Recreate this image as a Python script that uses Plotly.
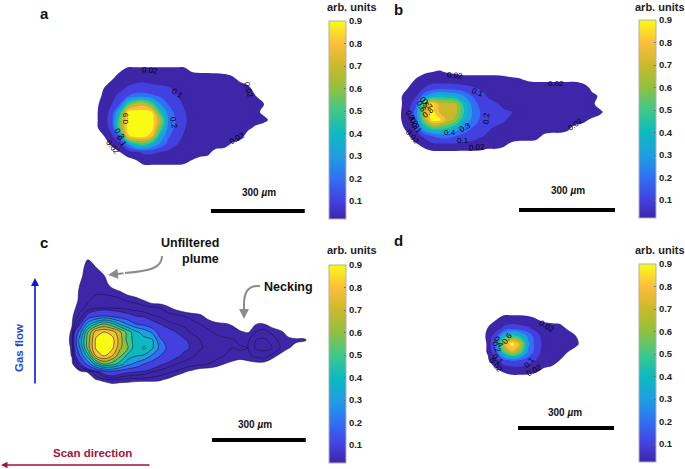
import plotly.graph_objects as go

FONT = "Liberation Sans"
W, H = 685, 469

# ---- colour levels (MATLAB parula look)
BAND_EDGES = [0.02, 0.1, 0.2, 0.3, 0.4, 0.5, 0.6, 0.7, 0.8, 0.9, 1.0]
BAND_COLORS = ["#3e26a8", "#4340e0", "#3070f5", "#1f9fe0", "#0db9c0",
               "#3ec98a", "#90c13f", "#cbb92a", "#fdbe3d", "#f9fb15"]
BAR_VALUES = [0.02, 0.1, 0.2, 0.3, 0.4, 0.5, 0.6, 0.7, 0.8, 0.9]
BAR_TICKS = [0.1, 0.2, 0.3, 0.4, 0.5, 0.6, 0.7, 0.8, 0.9]
LINE_LEVELS_C = [0.02, 0.04, 0.07, 0.1, 0.2, 0.3, 0.4, 0.5, 0.6, 0.7, 0.8, 0.9]

# ---- plume intensity grids (arb. units)
Z_A = [
 [0]*24,
 [0,0,0,.02,.05,.05,.05,.05,.05,.05,.05,.05,.02,.016,.016,.014,.01,0,0,0,0,0,0,0],
 [0,0,.02,.05,.07,.08,.08,.07,.06,.05,.05,.05,.05,.05,.05,.05,.05,.04,.01,0,0,0,0,0],
 [0,.02,.05,.08,.11,.13,.14,.13,.12,.11,.08,.05,.05,.05,.05,.05,.05,.05,.05,.03,0,0,0,0],
 [0,.03,.08,.12,.2,.24,.24,.22,.19,.15,.11,.07,.05,.05,.05,.05,.05,.05,.05,.05,.02,0,0,0],
 [.01,.04,.1,.2,.55,.72,.75,.55,.3,.2,.13,.09,.05,.05,.05,.05,.05,.05,.05,.05,.04,.02,0,0],
 [.012,.05,.14,.45,.93,.95,.95,.9,.5,.27,.16,.11,.06,.05,.05,.05,.05,.05,.05,.05,.03,.01,0,0],
 [.012,.05,.17,.6,.95,.95,.95,.95,.72,.3,.19,.12,.06,.05,.05,.05,.05,.05,.05,.05,.04,.03,.01,0],
 [.01,.05,.14,.6,.95,.95,.95,.95,.6,.28,.17,.11,.05,.05,.05,.05,.05,.05,.05,.03,.01,0,0,0],
 [0,.02,.09,.25,.88,.95,.95,.82,.4,.22,.14,.09,.05,.05,.05,.05,.05,.05,.04,0,0,0,0,0],
 [0,0,.03,.09,.3,.5,.55,.42,.28,.17,.11,.06,.05,.05,.05,.05,.04,.015,0,0,0,0,0,0],
 [0,0,0,.02,.06,.09,.12,.12,.1,.08,.06,.05,.05,.05,.035,0,0,0,0,0,0,0,0,0],
 [0,0,0,0,0,.02,.05,.05,.05,.05,.05,.04,.02,0,0,0,0,0,0,0,0,0,0,0],
 [0]*24,
]

Z_B = [
 [0]*27,
 [0,0,0,.01,.02,.025,.015,.01,0,0,0,0,0,0,0,0,0,0,0,0,0,0,0,0,0,0,0],
 [0,0,.025,.05,.06,.06,.06,.05,.05,.05,.05,.05,.05,.04,.03,.025,.015,.01,.01,.01,.01,.01,.01,0,0,0,0],
 [0,.02,.05,.1,.14,.15,.15,.15,.13,.11,.09,.06,.05,.05,.05,.05,.05,.05,.05,.05,.05,.05,.05,.04,.01,0,0],
 [.01,.05,.09,.26,.38,.45,.42,.38,.3,.2,.14,.09,.06,.05,.05,.05,.05,.05,.05,.05,.05,.05,.05,.05,.03,.015,0],
 [.01,.05,.17,.65,.93,.75,.75,.72,.45,.27,.17,.13,.11,.08,.06,.05,.05,.05,.05,.05,.05,.05,.05,.05,.03,0,0],
 [.012,.07,.25,.7,.95,.78,.75,.72,.5,.3,.2,.16,.13,.11,.1,.07,.05,.05,.05,.05,.05,.05,.05,.05,.05,.03,0],
 [.012,.06,.22,.65,.95,.92,.75,.65,.4,.28,.19,.15,.13,.11,.07,.05,.05,.05,.05,.05,.05,.05,.05,.03,.01,0,0],
 [0,.04,.13,.4,.55,.55,.5,.38,.26,.2,.15,.11,.09,.07,.05,.05,.05,.05,.05,.05,.05,.03,0,0,0,0,0],
 [0,.01,.06,.12,.2,.24,.24,.2,.17,.13,.11,.09,.06,.05,.05,.05,.05,.04,.01,0,0,0,0,0,0,0,0],
 [0,0,.015,.04,.08,.09,.09,.09,.08,.08,.06,.05,.05,.03,.01,0,0,0,0,0,0,0,0,0,0,0,0],
 [0,0,0,0,.01,.01,.01,.01,.01,.01,.01,0,0,0,0,0,0,0,0,0,0,0,0,0,0,0,0],
 [0]*27,
]

Z_C = [
 [0]*33,
 [0,0,0,.022]+[0]*29,
 [0,0,.01,.03,.022]+[0]*28,
 [0,0,.015,.03,.03,.022]+[0]*27,
 [0,0,.02,.03,.03,.03,.01]+[0]*26,
 [0,0,.025,.03,.035,.035,.03,.022,.01]+[0]*24,
 [0,.005,.025,.035,.05,.05,.05,.045,.035,.03,.018]+[0]*22,
 [0,.012,.03,.05,.065,.07,.07,.065,.06,.055,.05,.045,.04,.025,.012]+[0]*18,
 [0,.015,.05,.12,.17,.2,.17,.14,.12,.1,.09,.075,.065,.05,.045,.04,.03,.025,.012]+[0]*14,
 [0,.018,.1,.35,.5,.6,.52,.38,.28,.2,.17,.12,.1,.08,.07,.065,.05,.04,.03,.025,.022,.018,.01,.012,.019,.02,.01,0,0,0,0,0,0],
 [0,.025,.25,.6,.85,.9,.85,.72,.55,.42,.36,.28,.15,.12,.1,.08,.065,.055,.045,.036,.03,.028,.022,.018,.04,.05,.032,.025,.012,0,0,0,0],
 [0,.03,.35,.65,.92,.95,.95,.75,.55,.45,.43,.42,.22,.15,.12,.105,.09,.07,.06,.05,.045,.042,.036,.035,.07,.075,.06,.03,.025,.024,.024,.01,0],
 [0,.025,.3,.65,.92,.95,.93,.72,.6,.42,.52,.42,.27,.18,.13,.11,.095,.075,.06,.05,.045,.04,.042,.04,.075,.08,.07,.04,.022,.012,0,0,0],
 [0,.022,.2,.45,.8,.9,.8,.62,.45,.4,.38,.28,.2,.15,.11,.09,.075,.06,.055,.05,.04,.04,.035,.035,.045,.05,.03,.012,0,0,0,0,0],
 [0,.012,.09,.23,.45,.6,.55,.45,.33,.27,.2,.15,.11,.09,.07,.06,.05,.045,.04,.03,.02,.01,0,.01,.012,.01,0,0,0,0,0,0,0],
 [0,0,.01,.022,.06,.13,.16,.13,.11,.1,.09,.07,.055,.045,.035,.022,.012,0,0,0,0,0,0,0,0,0,0,0,0,0,0,0,0],
 [0,0,0,0,.018,.025,.035,.03,.028,.025,.024,.024,.022,.014]+[0]*19,
 [0]*33,
]

Z_D = [
 [0]*14,
 [0,0,.02,.05,.05,.05,.04,.025,.01,0,0,0,0,0],
 [0,.022,.05,.12,.15,.13,.11,.07,.05,.05,.04,.01,0,0],
 [0,.03,.16,.42,.55,.45,.28,.14,.06,.05,.05,.05,.02,0],
 [0,.025,.25,.78,.96,.78,.33,.16,.07,.05,.05,.05,.03,0],
 [0,.025,.18,.55,.78,.6,.28,.15,.06,.05,.05,.02,0,0],
 [0,.015,.07,.18,.22,.2,.16,.1,.05,.05,.02,0,0,0],
 [0,0,.02,.05,.07,.08,.06,.05,.02,.01,0,0,0,0],
 [0,0,0,0,.01,.01,.01,0,0,0,0,0,0,0],
 [0]*14,
]

# panel: grid, px origin, px/um scale, px domain (l, t, r, b), scale-bar px (x0, y)
PANELS = {
 "a": dict(z=Z_A, ox=96, oy=64, px_um=0.3125, dom=(0, 0, 320, 230), bar=(211, 211), bar_text=(259, 192), label=(44, 14), cb=(329, 21), unit=(352, 7)),
 "b": dict(z=Z_B, ox=400, oy=64, px_um=0.32, dom=(340, 0, 630, 230), bar=(519, 210), bar_text=(568, 191), label=(398, 10), cb=(639, 20), unit=(660, 7)),
 "c": dict(z=Z_C, ox=64, oy=252, px_um=0.3125, dom=(0, 235, 320, 469), bar=(212, 440), bar_text=(255, 424), label=(44, 242), cb=(329, 265), unit=(352, 250)),
 "d": dict(z=Z_D, ox=480, oy=312, px_um=0.32, dom=(340, 235, 630, 469), bar=(518, 428), bar_text=(565, 412), label=(398, 240), cb=(639, 264), unit=(660, 250)),
}
SCALE_BAR_UM = 300
GRID_PX = 8

LEVEL_LABELS = [
 ("0.02",150,70,5),("0.1",177,94,35),("0.2",174,123,80),("0.9",125,118,-90),("0.2",120,134,55),
 ("0.1",122,141,55),("0.02",113,147,50),("0.02",248,90,75),("0.02",237,138,-30),
 ("0.02",455,75,5),("0.1",478,92,20),("0.2",486,118,-85),("0.3",465,127,-30),("0.4",450,132,0),
 ("0.1",463,140,0),("0.02",477,148,-5),("0.02",556,83,0),("0.02",575,124,-35),("0.02",412,137,50),
 ("0.1",417,128,50),("0.2",413,121,60),("0.3",415,124,60),("0.4",411,116,60),("0.5",424,103,60),
 ("0.6",421,107,60),("0.7",427,105,50),("0.8",428,112,-40),
 ("0.02",547,326,30),("0.02",496,365,50),("0.1",498,359,50),("0.2",497,347,70),("0.4",499,342,60),
 ("0.6",507,338,-55),("0.1",529,362,-50),("0.02",534,370,-30),
]


def px(x):
    return x / W


def py(y):
    return 1 - y / H


def note(x, y, text, size, color, angle=0, xanchor="center"):
    return dict(x=px(x), y=py(y), xref="paper", yref="paper", text=text, textangle=angle, showarrow=False,
                xanchor=xanchor, yanchor="middle", font=dict(family=FONT, size=size, color=color))


def arrow(head, tail, color, width):
    return dict(x=px(head[0]), y=py(head[1]), ax=tail[0] - head[0], ay=tail[1] - head[1], xref="paper", yref="paper",
                axref="pixel", ayref="pixel", text="", showarrow=True, arrowhead=2, arrowsize=1, arrowwidth=width,
                arrowcolor=color)


def stepped_scale():
    scale = [[0, "#ffffff"], [BAND_EDGES[0], "#ffffff"]]
    for i, c in enumerate(BAND_COLORS):
        scale += [[BAND_EDGES[i], c], [BAND_EDGES[i + 1], c]]
    return scale


bar_scale = [[(v - BAR_VALUES[0]) / (BAR_VALUES[-1] - BAR_VALUES[0]), c]
             for v, c in zip(BAR_VALUES, BAND_COLORS)]

fig = go.Figure()
annotations, shapes = [], []
layout_axes = {}

for n, (name, p) in enumerate(PANELS.items(), start=1):
    l, t, r, b = p["dom"]
    k = p["px_um"]
    suffix = "" if n == 1 else str(n)
    xa, ya = "x" + suffix, "y" + suffix
    layout_axes["xaxis" + suffix] = dict(domain=[px(l), px(r)], range=[0, (r - l) / k], visible=False,
                                         anchor=ya, fixedrange=True)
    layout_axes["yaxis" + suffix] = dict(domain=[py(b), py(t)], range=[(b - t) / k, 0], visible=False,
                                         anchor=xa, fixedrange=True)
    z = p["z"]
    xs = [(p["ox"] - l + GRID_PX * i) / k for i in range(len(z[0]))]
    ys = [(p["oy"] - t + GRID_PX * j) / k for j in range(len(z))]
    fig.add_trace(go.Contour(x=xs, y=ys, z=z, xaxis=xa, yaxis=ya, zmin=0, zmax=1, colorscale=stepped_scale(),
                             autocontour=False, contours=dict(start=0, end=1, size=0.02, coloring="fill", showlines=False),
                             line=dict(width=0), showscale=False, hoverinfo="skip"))
    if name == "c":
        for lev in LINE_LEVELS_C:
            fig.add_trace(go.Contour(x=xs, y=ys, z=z, xaxis=xa, yaxis=ya, autocontour=False,
                                     contours=dict(start=lev, end=lev, size=1, coloring="none"),
                                     line=dict(color="#15103a", width=0.55), showscale=False, hoverinfo="skip"))
    # 300 um scale bar
    bx, by = p["bar"]
    x0 = (bx - l) / k
    yb = (by - t) / k
    fig.add_trace(go.Scatter(x=[x0, x0 + SCALE_BAR_UM], y=[yb, yb], xaxis=xa, yaxis=ya, mode="lines",
                             line=dict(color="black", width=4), showlegend=False, hoverinfo="skip"))
    annotations.append(note(*p["bar_text"], "<b>300 <i>µ</i>m</b>", 10, "#111"))
    annotations.append(note(*p["label"], f"<b>{name}</b>", 15, "#111"))
    annotations.append(note(*p["unit"], "<b>arb. units</b>", 11, "#222"))
    # colour bar
    cx, cy = p["cb"]
    fig.add_trace(go.Scatter(x=[None], y=[None], xaxis=xa, yaxis=ya, mode="markers", showlegend=False,
                             marker=dict(color=[BAR_VALUES[0]], cmin=BAR_VALUES[0], cmax=BAR_VALUES[-1],
                                         colorscale=bar_scale, showscale=True,
                                         colorbar=dict(x=px(cx), xanchor="left", y=py(cy), yanchor="top",
                                                       thickness=17, thicknessmode="pixels", len=198, lenmode="pixels",
                                                       xpad=0, ypad=0, outlinecolor="#b0b0b0", outlinewidth=1,
                                                       tickmode="array", tickvals=BAR_TICKS,
                                                       ticktext=[f"{v:.1f}" for v in BAR_TICKS],
                                                       ticks="inside", ticklen=2, tickcolor="#666", tickwidth=1,
                                                       tickfont=dict(family=FONT, size=9.5, color="#222", weight="bold")))))

for text, x, y, ang in LEVEL_LABELS:
    annotations.append(note(x, y, text, 8, "black", angle=ang))

# callouts on panel c
annotations += [
    note(221, 243, "<b>Unfiltered</b>", 12.5, "#111", xanchor="right"),
    note(221, 259, "<b>plume</b>", 12.5, "#111", xanchor="right"),
    note(288, 287, "<b>Necking</b>", 12.5, "#111"),
    note(19, 348, "<b>Gas flow</b>", 11.5, "#1f48d8", angle=-90),
    note(92, 453, "<b>Scan direction</b>", 11.5, "#a5123c"),
    arrow((108, 275), (125, 273), "#8c8c8c", 2),
    arrow((244, 319), (244, 300), "#8c8c8c", 2),
    arrow((35, 278), (35, 385), "#1010e8", 1.6),
    arrow((1, 465), (151, 465), "#a5123c", 1.3),
]
for path_pts in ([(162, 256), (162, 268), (150, 271), (125, 273)], [(260, 286), (246, 285), (244, 295), (244, 305)]):
    a, c1, c2, e = path_pts
    shapes.append(dict(type="path", xref="paper", yref="paper", line=dict(color="#8c8c8c", width=2),
                       path=f"M {px(a[0])} {py(a[1])} C {px(c1[0])} {py(c1[1])} {px(c2[0])} {py(c2[1])} {px(e[0])} {py(e[1])}"))

fig.update_layout(width=W, height=H, margin=dict(l=0, r=0, t=0, b=0), paper_bgcolor="white", plot_bgcolor="white",
                  showlegend=False, annotations=annotations, shapes=shapes, **layout_axes)
fig.write_html("out.html", config={"displayModeBar": False}, post_script="document.body.style.margin='0';")
